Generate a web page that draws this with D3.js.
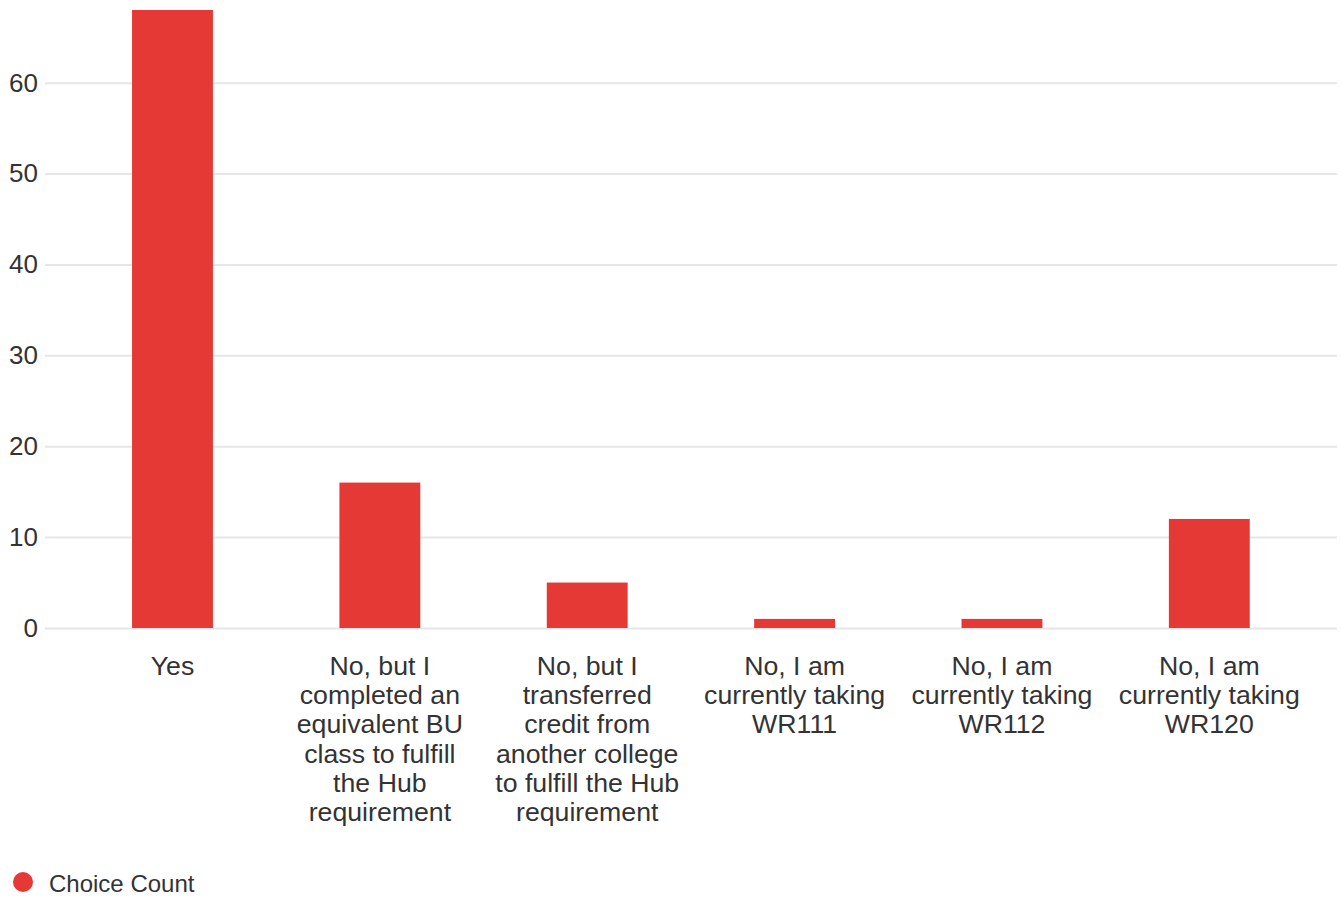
<!DOCTYPE html>
<html>
<head>
<meta charset="utf-8">
<script src="https://cdn.jsdelivr.net/npm/d3@7"></script>
<style>
  html, body { margin: 0; padding: 0; background: #ffffff; }
  svg { display: block; font-family: "Liberation Sans", Arial, sans-serif; }
</style>
</head>
<body>
<svg id="chart" width="1342" height="899"></svg>
<script>
// ---- data ----
const categoryLines = [
  ["Yes"],
  ["No, but I", "completed an", "equivalent BU", "class to fulfill", "the Hub", "requirement"],
  ["No, but I", "transferred", "credit from", "another college", "to fulfill the Hub", "requirement"],
  ["No, I am", "currently taking", "WR111"],
  ["No, I am", "currently taking", "WR112"],
  ["No, I am", "currently taking", "WR120"]
];
const categories = categoryLines.map(l => l.join(" "));
const choiceCount = [68, 16, 5, 1, 1, 12];
const yTicks = [0, 10, 20, 30, 40, 50, 60];
const seriesName = "Choice Count";

// ---- style ----
const barColor = "#e53935";
const textColor = "#333333";
const gridColor = "#e6e6e6";
const fontSize = 26;
const labelFontSize = 26.7;

const svg = d3.select("#chart");

const gridLeft = 45, gridRight = 1337;
const plotLeft = 68.8, plotRight = 1313;
const y0 = 628, yTop = 10;

const x = d3.scaleBand()
  .domain(categories)
  .range([plotLeft, plotRight])
  .paddingInner(0.61)
  .paddingOuter(0.305);

const y = d3.scaleLinear()
  .domain([0, 68])
  .range([y0, yTop]);

// y axis + grid
const yAxis = d3.axisLeft(y)
  .tickValues(yTicks)
  .tickSize(-(gridRight - gridLeft))
  .tickPadding(7)
  .tickFormat(d3.format("d"));

const gy = svg.append("g")
  .attr("transform", `translate(${gridLeft},0)`)
  .call(yAxis);
gy.select(".domain").remove();
gy.selectAll(".tick line").attr("stroke", gridColor).attr("stroke-width", 2);
gy.selectAll(".tick text")
  .attr("fill", textColor)
  .style("font-size", fontSize + "px")
  .style("font-family", '"Liberation Sans", Arial, sans-serif');

// bars
svg.append("g")
  .selectAll("rect")
  .data(choiceCount)
  .join("rect")
  .attr("x", (d, i) => x(categories[i]))
  .attr("width", x.bandwidth())
  .attr("y", d => y(d))
  .attr("height", d => y(0) - y(d))
  .attr("fill", barColor);

// x axis labels
const xAxis = d3.axisBottom(x).tickSize(0).tickPadding(0);
const gx = svg.append("g")
  .attr("transform", `translate(0,${y0})`)
  .call(xAxis);
gx.select(".domain").remove();
gx.selectAll(".tick text").each(function (d, i) {
  const t = d3.select(this);
  t.text(null)
    .attr("fill", textColor)
    .attr("y", 0)
    .attr("dy", null)
    .style("font-size", labelFontSize + "px")
    .style("font-family", '"Liberation Sans", Arial, sans-serif')
    .attr("text-anchor", "middle");
  categoryLines[i].forEach((line, k) => {
    t.append("tspan")
      .attr("x", 0)
      .attr("y", 47 + k * 29.2)
      .text(line);
  });
});

// legend
const legend = svg.append("g").attr("transform", "translate(23,882)");
legend.append("circle").attr("r", 10).attr("fill", barColor);
legend.append("text")
  .attr("x", 26)
  .attr("y", 10)
  .attr("fill", textColor)
  .style("font-size", "24px")
  .text(seriesName);
</script>
</body>
</html>
